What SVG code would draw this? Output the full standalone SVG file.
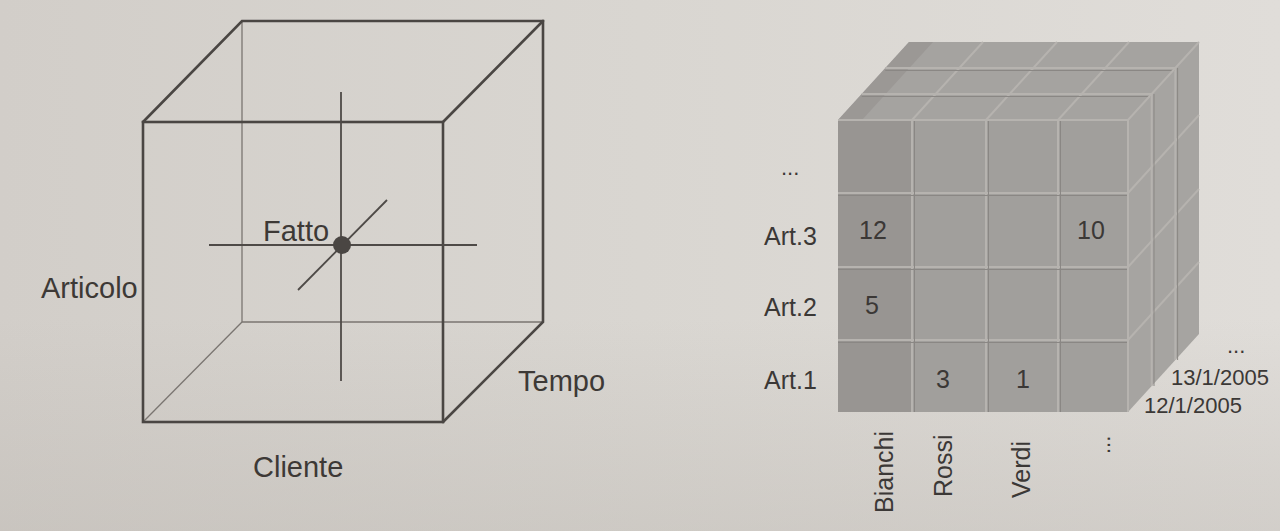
<svg xmlns="http://www.w3.org/2000/svg" width="1280" height="531" viewBox="0 0 1280 531">
<defs>
<linearGradient id="bg" x1="0" y1="0" x2="1" y2="0">
<stop offset="0" stop-color="#d2cec9"/>
<stop offset="0.5" stop-color="#d9d6d1"/>
<stop offset="1" stop-color="#e0ddd9"/>
</linearGradient>
<linearGradient id="bgshade" x1="0" y1="0" x2="0" y2="1">
<stop offset="0.6" stop-color="#b8b3ad" stop-opacity="0"/>
<stop offset="1" stop-color="#b8b3ad" stop-opacity="0.35"/>
</linearGradient>
<style>
.thick{stroke:#4a4643;stroke-width:2.6;fill:none;stroke-linecap:round}
.thin{stroke:#7a7571;stroke-width:1.3;fill:none}
.axis{stroke:#4e4a47;stroke-width:1.8;fill:none}
.lbl{font-family:"Liberation Sans",Arial,sans-serif;font-size:29px;fill:#3d3936}
.rl{font-family:"Liberation Sans",Arial,sans-serif;font-size:25px;fill:#3b3836}
.dl{font-family:"Liberation Sans",Arial,sans-serif;font-size:22px;fill:#3b3836}
.face{fill:#a19f9c}
.facedark{fill:#989592}
.side{fill:#a6a4a1}
.top{fill:#a5a3a0}
.gap{stroke:#b6b3af;stroke-width:2;fill:none}
.shadow{stroke:#8a8784;stroke-width:1;fill:none}
</style>
</defs>
<rect width="1280" height="531" fill="url(#bg)"/>
<rect width="1280" height="531" fill="url(#bgshade)"/>

<g id="cube-wireframe">
<line class="thin" x1="242" y1="21" x2="242" y2="322"/>
<line class="thin" x1="242" y1="322" x2="543" y2="322"/>
<line class="thin" x1="143" y1="422" x2="242" y2="322"/>
<polyline class="thick" points="143,122 242,21 543,21 543,322 443,422"/>
<line class="thick" x1="443" y1="122" x2="543" y2="21"/>
<rect class="thick" x="143" y="122" width="300" height="300"/>
</g>

<g id="axes">
<line class="axis" x1="341" y1="92" x2="341" y2="381"/>
<line class="axis" x1="209" y1="245" x2="477" y2="245"/>
<line class="axis" x1="387" y1="200" x2="298" y2="290"/>
<circle id="fatto-dot" cx="342" cy="245" r="9" fill="#4a4643"/>
</g>

<g id="labels-left">
<text class="lbl" x="263" y="241">Fatto</text>
<text class="lbl" x="41" y="298">Articolo</text>
<text class="lbl" x="518" y="391">Tempo</text>
<text class="lbl" x="253" y="477">Cliente</text>
</g>

<g id="data-cube">
<polygon class="top" points="838,120 909,42 1199,42 1128,120"/>
<polygon class="side" points="1128,120 1199,42 1199,334 1128,412"/>
<rect class="face" x="838" y="120" width="290" height="292"/>
<rect class="facedark" x="838" y="120" width="74" height="292"/>
<polygon class="facedark" points="838,120 909,42 933,42 862,120" opacity="0.8"/>
<g id="cube-grid">
<!-- front face -->
<line class="gap" x1="912" y1="120" x2="912" y2="412"/>
<line class="gap" x1="986" y1="120" x2="986" y2="412"/>
<line class="gap" x1="1058" y1="120" x2="1058" y2="412"/>
<line class="gap" x1="838" y1="193" x2="1128" y2="193"/>
<line class="gap" x1="838" y1="267" x2="1128" y2="267"/>
<line class="gap" x1="838" y1="340" x2="1128" y2="340"/>
<line class="shadow" x1="914.5" y1="120" x2="914.5" y2="412"/>
<line class="shadow" x1="988.5" y1="120" x2="988.5" y2="412"/>
<line class="shadow" x1="1060.5" y1="120" x2="1060.5" y2="412"/>
<line class="shadow" x1="838" y1="195.5" x2="1128" y2="195.5"/>
<line class="shadow" x1="838" y1="269.5" x2="1128" y2="269.5"/>
<line class="shadow" x1="838" y1="342.5" x2="1128" y2="342.5"/>
<!-- top face -->
<line class="gap" x1="861.7" y1="94" x2="1151.7" y2="94"/>
<line class="gap" x1="885.3" y1="68" x2="1175.3" y2="68"/>
<line class="gap" x1="912" y1="120" x2="983" y2="42"/>
<line class="gap" x1="986" y1="120" x2="1057" y2="42"/>
<line class="gap" x1="1058" y1="120" x2="1129" y2="42"/>
<line class="shadow" x1="861.7" y1="96.5" x2="1151.7" y2="96.5"/>
<line class="shadow" x1="885.3" y1="70.5" x2="1175.3" y2="70.5"/>
<!-- right face -->
<line class="gap" x1="1151.7" y1="94" x2="1151.7" y2="386"/>
<line class="gap" x1="1175.3" y1="68" x2="1175.3" y2="360"/>
<line class="gap" x1="1128" y1="193" x2="1199" y2="115"/>
<line class="gap" x1="1128" y1="267" x2="1199" y2="189"/>
<line class="gap" x1="1128" y1="340" x2="1199" y2="262"/>
<line class="shadow" x1="1154" y1="94" x2="1154" y2="386"/>
<line class="shadow" x1="1177.6" y1="68" x2="1177.6" y2="360"/>
<!-- outer edges -->
<polyline class="gap" points="838,120 1128,120 1199,42"/>
<line class="gap" x1="1128" y1="120" x2="1128" y2="412"/>
</g>
</g>

<g id="cell-values">
<text class="rl" x="859" y="239">12</text>
<text class="rl" x="1077" y="239">10</text>
<text class="rl" x="865" y="314">5</text>
<text class="rl" x="936" y="388">3</text>
<text class="rl" x="1016" y="388">1</text>
</g>

<g id="labels-articolo">
<text class="dl" x="781" y="175">...</text>
<text class="rl" x="764" y="245">Art.3</text>
<text class="rl" x="764" y="316">Art.2</text>
<text class="rl" x="764" y="389">Art.1</text>
</g>

<g id="labels-tempo">
<text class="dl" x="1227" y="353">...</text>
<text class="dl" x="1171" y="385">13/1/2005</text>
<text class="dl" x="1144" y="413">12/1/2005</text>
</g>

<g id="labels-cliente">
<text class="rl" transform="translate(893,513) rotate(-90)">Bianchi</text>
<text class="rl" transform="translate(952,497) rotate(-90)">Rossi</text>
<text class="rl" transform="translate(1030,498) rotate(-90)">Verdi</text>
<text class="dl" transform="translate(1110,454) rotate(-90)">...</text>
</g>
</svg>
